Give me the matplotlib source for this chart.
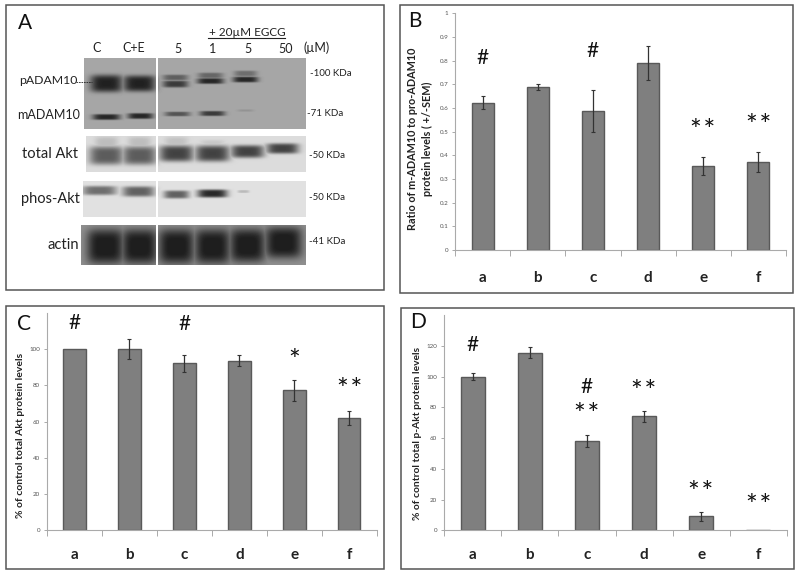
import numpy as np
import matplotlib
matplotlib.use('Agg')
import matplotlib.pyplot as plt
from matplotlib.patches import Rectangle

plt.rcParams['font.family'] = ['Lato', 'DejaVu Sans']

W, H = 800, 575
categories = ['a', 'b', 'c', 'd', 'e', 'f']

# bar charts, values
ratio_vals = [0.622, 0.69, 0.588, 0.79, 0.355, 0.372]
ratio_errs = [0.028, 0.012, 0.09, 0.07, 0.038, 0.043]
ratio_ticks = [0, 0.1, 0.2, 0.3, 0.4, 0.5, 0.6, 0.7, 0.8, 0.9, 1]
ratio_marks = [(0, 0.81, '#'), (2, 0.84, '#'), (4, 0.53, '**'), (5, 0.55, '**')]

akt_vals = [100, 100.3, 92.3, 93.7, 77.3, 62]
akt_errs = [0, 5.5, 4.7, 3, 5.7, 4]
akt_ticks = [0, 20, 40, 60, 80, 100]
akt_marks = [(0, 114.5, '#'), (2, 114, '#'), (4, 97, '*'), (5, 81, '**')]

pakt_vals = [100, 115.5, 58, 74, 9, 0]
pakt_errs = [2.5, 3.5, 4, 3.5, 2.7, 0]
pakt_ticks = [0, 20, 40, 60, 80, 100, 120]
pakt_marks = [(0, 120.6, '#'), (2, 93.5, '#'), (2, 79, '**'), (3, 94, '**'),
              (4, 28, '**'), (5, 20, '**')]

# blot rows: top, bottom, left edge, background grey
blot_rows = [(58, 129, 84, 0.65), (136, 172, 86, 0.86), (181, 217, 83, 0.88), (225, 265, 81, 0.56)]
# blot bands: x, y, half width, half height, darkness
blot_bands = [
    (106, 83, 14, 7.5, 0.52), (139, 83, 14, 7, 0.52),
    (175, 77, 11, 2.5, 0.28), (175, 83.5, 11, 3, 0.42),
    (210, 75, 11, 2.5, 0.25), (210, 80.5, 11.5, 2.5, 0.5),
    (245, 73, 10, 2.5, 0.22), (245, 79, 11, 2.5, 0.5),
    (106, 116.5, 12, 2.5, 0.5), (140, 115.5, 11, 2.5, 0.5),
    (177, 113.5, 11, 2, 0.32), (212, 113, 11, 2.2, 0.42), (245, 110, 7, 1, 0.07),
    (106, 155, 15, 8, 0.5), (139, 155, 15, 8, 0.5),
    (176, 153, 15, 7, 0.6), (212, 153, 15, 7, 0.6),
    (247, 151, 14.5, 5.5, 0.6), (282, 148, 14, 4.5, 0.6),
    (99, 190, 15, 4, 0.45), (138, 191, 14, 4.5, 0.5),
    (176, 194, 11, 3.5, 0.5), (212, 193, 13, 3.5, 0.72), (243, 191, 5, 1.2, 0.15),
    (105, 246, 16, 15, 0.46), (139, 246, 15.5, 15, 0.46),
    (176, 246, 15.5, 15, 0.46), (212, 246, 15.5, 15, 0.46),
    (247, 245, 15.5, 14.5, 0.46), (283, 242, 16, 13.5, 0.46),
]
blot_smears = [(106, 143, 10, 6, 0.12), (139, 143, 10, 6, 0.12), (176, 142, 10, 5, 0.1), (212, 144, 10, 4, 0.08)]

# text in panel A
panel_a_text = [
    (97, 48, 'C', 9), (134, 48, 'C+E', 9), (178, 49, '5', 9), (213, 49, '1', 9), (248, 49, '5', 9),
    (286, 49, '50', 9), (317, 48, '(µM)', 9),
    (247, 32, '+ 20µM EGCG', 8.5),
    (48, 81, 'pADAM10', 8.8), (49, 115, 'mADAM10', 9),
    (50, 154, 'total Akt', 10.5), (50, 199, 'phos-Akt', 10.5), (63, 245, 'actin', 10.6),
    (331, 74, '-100 KDa', 7), (325, 113, '-71 KDa', 7), (327, 155, '-50 KDa', 7),
    (327, 197, '-50 KDa', 7), (327, 242, '-41 KDa', 7),
]


def blot_image():
    '''greyscale picture of the western blot, one pixel per figure pixel'''
    img = np.ones((H, W))
    yy, xx = np.mgrid[0:H, 0:W]
    for top, bottom, left, grey in blot_rows:
        for x0, x1 in [(left, 156), (158, 306)]:
            img[top:bottom, x0:x1] = grey
    mask = img < 1
    dark = np.zeros((H, W))
    for x, y, a, b, d in blot_bands + blot_smears:
        # the half sizes were measured on the solid part of the band, so widen a bit
        a, b = a * 1.15, b * 1.15
        # maximum, not sum, so neighbouring lanes keep a lighter gap between them
        dark = np.maximum(dark, d * np.exp(-(np.abs((xx - x) / a) ** 4 + np.abs((yy - y) / b) ** 4)))
    img = np.where(mask, img - dark, img)
    return np.clip(img, 0.12, 1)


def px_axes(fig, left, right, top, bottom):
    return fig.add_axes([left / W, 1 - bottom / H, (right - left) / W, (bottom - top) / H])


def bar_panel(fig, box, vals, errs, ticks, ymax, marks, label_off):
    ax = px_axes(fig, *box)
    ax.patch.set_alpha(0)
    x = np.arange(len(vals))
    ax.bar(x, vals, width=0.41, color='#7f7f7f', edgecolor='#595959', linewidth=1)
    for xi, v, e in zip(x, vals, errs):
        if e > 0:
            ax.errorbar(xi, v, yerr=e, color='#333333', elinewidth=0.9, capsize=1.3, capthick=0.8)
    ax.set_xlim(-0.5, 5.5)
    ax.set_ylim(0, ymax)
    ax.set_xticks(np.arange(7) - 0.5)
    ax.set_xticklabels([])
    ax.set_yticks(ticks)
    ax.set_yticklabels([str(t) for t in ticks])
    ax.tick_params(axis='y', labelsize=4.5, labelcolor='#555555', length=2.5, width=0.7, color='#aaaaaa', pad=2.5)
    ax.tick_params(axis='x', length=4, width=0.7, color='#aaaaaa')
    for s in ['top', 'right']:
        ax.spines[s].set_visible(False)
    for s in ['left', 'bottom']:
        ax.spines[s].set_color('#aaaaaa')
        ax.spines[s].set_linewidth(0.8)
    for xi, c in zip(x, categories):
        ax.annotate(c, (xi, 0), xytext=(0, -label_off), xycoords='data', textcoords='offset pixels',
                    ha='center', va='center', fontsize=11, fontweight='bold', color='#222222')
    for i, y, s in marks:
        if s == '#':
            ax.text(i, y, s, ha='center', va='center', fontsize=15, color='#111111')
        else:
            # hair space keeps the stars as far apart as in the picture
            ax.annotate('\u200a'.join(s), (i, y), xytext=(0, -7), textcoords='offset pixels',
                        ha='center', va='center', fontsize=20, color='#111111')
    return ax


def main():
    fig = plt.figure(figsize=(W / 100, H / 100), dpi=100)
    bg = fig.add_axes([0, 0, 1, 1])
    bg.imshow(blot_image(), cmap='gray', vmin=0, vmax=1, extent=(0, W, H, 0), aspect='auto', interpolation='bilinear')
    bg.set_xlim(0, W)
    bg.set_ylim(H, 0)
    bg.axis('off')

    # panel frames
    for x0, y0, x1, y1 in [(6, 5, 384, 290), (400, 5, 793, 293), (6, 306, 384, 569), (401, 308, 794, 569)]:
        bg.add_patch(Rectangle((x0, y0), x1 - x0, y1 - y0, fill=False, edgecolor='#555555', linewidth=1.1))
    for x, y, s in [(25, 23, 'A'), (415, 21, 'B'), (24, 324, 'C'), (418, 322, 'D')]:
        bg.text(x, y, s, ha='center', va='center', fontsize=15, color='#111111')

    for x, y, s, fs in panel_a_text:
        bg.text(x, y, s, ha='center', va='center', fontsize=fs, color='#222222')
    bg.plot([208, 285], [38, 38], color='#222222', lw=0.8)
    bg.plot([76, 92], [81.5, 81.5], color='#222222', lw=0.6, ls=(0, (2, 1)))

    bar_panel(fig, (455.3, 785.7, 13.3, 250), ratio_vals, ratio_errs, ratio_ticks, 1, ratio_marks, 28)
    bg.text(420, 139, 'Ratio of m-ADAM10 to pro-ADAM10\nprotein levels ( +/-SEM)', rotation=90,
            ha='center', va='center', fontsize=7.8, fontweight='bold', color='#222222', linespacing=1.5)
    bar_panel(fig, (47, 376.7, 313, 530), akt_vals, akt_errs, akt_ticks, 120, akt_marks, 25)
    bg.text(21, 435, '% of control total Akt protein levels', rotation=90,
            ha='center', va='center', fontsize=7.5, fontweight='bold', color='#222222')
    bar_panel(fig, (444.3, 786.7, 315, 530.3), pakt_vals, pakt_errs, pakt_ticks, 140, pakt_marks, 25)
    bg.text(417, 433, '% of control total p-Akt protein levels', rotation=90,
            ha='center', va='center', fontsize=7.4, fontweight='bold', color='#222222')

    fig.savefig('out.png', dpi=100, facecolor='white')


if __name__ == '__main__':
    main()
